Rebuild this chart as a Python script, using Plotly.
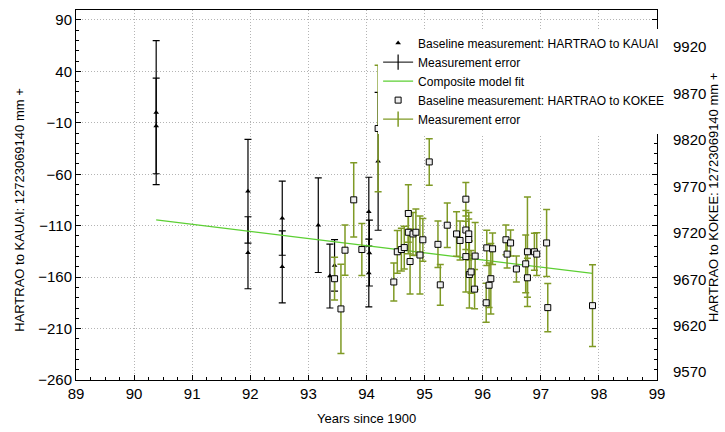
import plotly.graph_objects as go

# HARTRAO - KAUAI baseline (mm above 12723069140), left axis
kauai_year = [90.38, 90.38, 91.96, 91.96, 92.55, 92.55, 93.17, 93.37, 93.45,
              94.04, 94.05, 94.04, 94.2]
kauai_mm = [0, -13, -76.5, -136.3, -102.7, -150, -109.5, -159, -148.6,
            -96.4, -136.6, -156, -47.4]
kauai_err = [70, 46.5, 50.5, 35, 36, 35, 46, 31, 25,
             33.5, 32, 33, 67]

# HARTRAO - KOKEE baseline (mm above 12723069140), right axis
kokee_year = [93.45, 93.56, 93.63, 93.78, 93.92, 94.2, 94.47, 94.53, 94.6, 94.65,
              94.72, 94.72, 94.75, 94.8, 94.85, 94.92, 94.97, 95.08, 95.23, 95.27,
              95.39, 95.55, 95.61, 95.71, 95.71, 95.76, 95.76, 95.71, 95.77, 95.8,
              95.87, 95.86, 96.07, 96.06, 96.11, 96.14, 96.17, 96.4, 96.48, 96.42,
              96.58, 96.74, 96.77, 96.77, 96.89, 96.93, 97.1, 97.12, 97.89]
kokee_mm = [9670.6, 9638.1, 9701.3, 9755.5, 9702, 9832.3, 9667.1, 9699.6, 9702, 9704.1,
            9740.8, 9720.6, 9689.1, 9718.8, 9720.6, 9696.1, 9712.5, 9796.3, 9707.6, 9664,
            9728.2, 9718.8, 9711.8, 9756.2, 9723, 9718.8, 9712.8, 9694.4, 9675.1, 9677.9,
            9695, 9659.4, 9703.8, 9644.7, 9663.6, 9670.6, 9702.8, 9712.5, 9709.1, 9697.1,
            9681.1, 9686.6, 9699.6, 9671.6, 9699.6, 9697.1, 9709.1, 9639.5, 9641.6]
kokee_err = [23, 48, 27, 40, 28, 68, 20.5, 23, 23, 23,
             31, 23, 35, 23, 25, 42, 23, 25, 25, 22,
             24, 24, 21, 18, 21, 23, 22, 38, 36, 23,
             36, 21, 19, 21, 24, 38, 17, 16, 14, 15,
             14, 31, 59, 21, 20, 23, 36, 26, 44]

# composite model fit (left axis)
fit_year = [90.38, 97.89]
fit_mm = [-104.3, -156.4]

x_ticks = list(range(89, 100))
left_ticks = [90, 40, -10, -60, -110, -160, -210, -260]
right_ticks = [9920, 9870, 9820, 9770, 9720, 9670, 9620, 9570]

black = "#000000"
olive = "#7f9a25"
green = "#5ccf33"
font = "Liberation Sans, Arial, sans-serif"

fig = go.Figure()

fig.add_trace(go.Scatter(
    x=kauai_year, y=kauai_mm, mode="markers",
    name="Baseline measurement: HARTRAO to KAUAI",
    marker=dict(symbol="triangle-up", size=5, color=black),
    error_y=dict(type="data", array=kauai_err, color=black, thickness=1.2, width=3.5),
))
fig.add_trace(go.Scatter(
    x=[None], y=[None], mode="lines+markers", name="Measurement error",
    line=dict(color=black, width=1),
    marker=dict(symbol="line-ns", size=11, line=dict(color=black, width=1.2)),
))
fig.add_trace(go.Scatter(
    x=fit_year, y=fit_mm, mode="lines", name="Composite model fit",
    line=dict(color=green, width=1.3),
))
fig.add_trace(go.Scatter(
    x=kokee_year, y=kokee_mm, mode="markers", yaxis="y2",
    name="Baseline measurement: HARTRAO to KOKEE",
    marker=dict(symbol="square", size=6, color="#eeeeee", line=dict(color=black, width=1)),
    error_y=dict(type="data", array=kokee_err, color=olive, thickness=1.5, width=3.5),
))
fig.add_trace(go.Scatter(
    x=[None], y=[None], mode="lines+markers", name="Measurement error", yaxis="y2",
    line=dict(color=olive, width=1.3),
    marker=dict(symbol="line-ns", size=11, line=dict(color=olive, width=1.5)),
))

grid = dict(showgrid=True, gridcolor="#b4b4b4", griddash="1px,2px", gridwidth=1)

fig.update_layout(
    width=725, height=432,
    margin=dict(l=76, r=68, t=10, b=42),
    paper_bgcolor="white", plot_bgcolor="white",
    font=dict(family=font, size=15, color=black),
    showlegend=True,
    legend=dict(x=0.52, y=0.951, xanchor="left", yanchor="top",
                bgcolor="white", borderwidth=0, font=dict(size=12),
                tracegroupgap=0),
    xaxis=dict(range=[89, 99], tickvals=x_ticks, anchor="y",
               ticks="inside", ticklen=5, tickcolor=black,
               showline=True, linecolor=black, linewidth=1, mirror=True,
               minor=dict(dtick=0.25, ticks="inside", ticklen=3, tickcolor=black, showgrid=False),
               zeroline=False, **grid),
    yaxis=dict(range=[-260, 99.7], domain=[10 / 380, 1], tickvals=left_ticks,
               ticks="inside", ticklen=5, tickcolor=black,
               showline=True, linecolor=black, linewidth=1, mirror="ticks",
               minor=dict(tickvals=list(range(-260, 91, 10)), ticks="inside",
                          ticklen=3, tickcolor=black, showgrid=False),
               zeroline=False, **grid),
    yaxis2=dict(range=[9561.6, 9959.8], domain=[0, 1], overlaying="y", side="right",
                anchor="x", tickvals=right_ticks, ticktext=[str(t) for t in right_ticks],
                showgrid=False, zeroline=False,
                showline=False, ticks="outside", ticklen=12,
                tickcolor="rgba(0,0,0,0)"),
    annotations=[
        dict(text="Years since 1900", xref="paper", yref="paper", x=0.5, y=-0.074,
             showarrow=False, xanchor="center", yanchor="middle", font=dict(size=13)),
        dict(text="HARTRAO to KAUAI: 12723069140 mm +", xref="paper", yref="paper",
             x=-0.0964, y=0.474, textangle=-90, showarrow=False,
             xanchor="center", yanchor="middle", font=dict(size=13)),
        dict(text="HARTRAO to KOKEE: 12723069140 mm +", xref="paper", yref="paper",
             x=1.0964, y=0.505, textangle=-90, showarrow=False,
             xanchor="center", yanchor="middle", font=dict(size=13)),
    ],
)

# the page body has a default 8px margin; drop it so the figure sits at the origin
fig.write_html("out.html", config={"displayModeBar": False},
               post_script="document.body.style.margin = '0';")
